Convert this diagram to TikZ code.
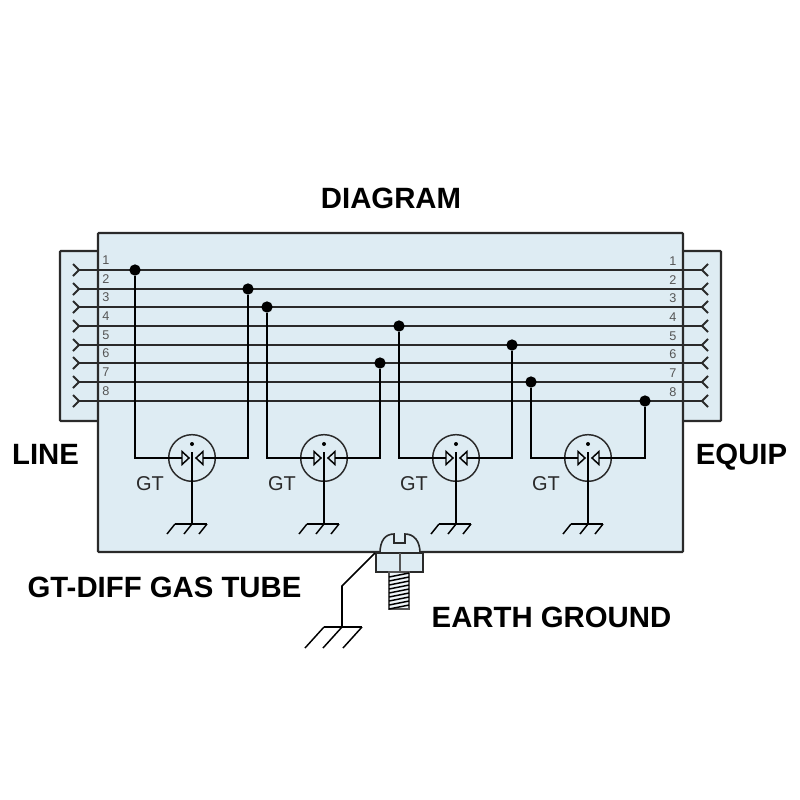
\documentclass[tikz,border=0pt]{standalone}
\usepackage{fontspec}
\setmainfont{Liberation Sans}
\definecolor{panelblue}{HTML}{DEECF3}
\definecolor{inkdark}{HTML}{2A2A2A}
\definecolor{pingray}{HTML}{555555}
\tikzset{
  housing/.style={draw=inkdark,line width=1.6pt,fill=panelblue,rounded corners=.6pt},
  wire/.style={draw=inkdark,line width=1.4pt},
  thinwire/.style={draw=black,line width=1.1pt},
  joint/.style={circle,fill=black,inner sep=0pt,minimum size=8.5pt},
  tube/.style={draw=inkdark,circle,line width=1.1pt,inner sep=0pt,minimum size=35pt},
  pinno/.style={text=pingray,font=\fontsize{9.5}{11}\selectfont,inner sep=0pt},
  gtlabel/.style={text=inkdark,font=\fontsize{15}{17}\selectfont,inner sep=0pt},
  title/.style={text=black,font=\bfseries\fontsize{22}{25}\selectfont,inner sep=0pt,anchor=base}
}
\begin{document}
\begin{tikzpicture}[x=.75pt,y=-.75pt]
\useasboundingbox (0,0) rectangle (800,800);
% housing
\draw[housing] (98,251) -- (60,251) -- (60,421) -- (98,421);
\draw[housing] (683,251) -- (721,251) -- (721,421) -- (683,421);
\draw[housing] (98,233) rectangle (683,552);
% line wires
\foreach \n/\y in {1/270,2/289,3/307,4/326,5/345,6/363,7/382,8/401}{
  \coordinate (L\n) at (79,\y);
  \coordinate (R\n) at (702,\y);
  \draw[wire] (L\n) -- (R\n);
  \draw[wire] (73,\y-6) -- (L\n) -- (73,\y+6);
  \draw[wire] (708,\y-6) -- (R\n) -- (708,\y+6);
  \node[pinno] (numL\n) at (106,\y-10) {\n};
  \node[pinno] (numR\n) at (673,\y-9) {\n};
}
% joints
\node[joint] (d1) at (135,270) {};
\node[joint] (d2) at (248,289) {};
\node[joint] (d3) at (267,307) {};
\node[joint] (d4) at (380,363) {};
\node[joint] (d5) at (399,326) {};
\node[joint] (d6) at (512,345) {};
\node[joint] (d7) at (531,382) {};
\node[joint] (d8) at (645,401) {};
% gas tubes
\foreach \t/\c/\a/\b in {1/192/d1/d2,2/324/d3/d4,3/456/d5/d6,4/588/d7/d8}{
  \node[tube] (t\t) at (\c,458) {};
  \coordinate (tl\t) at (\c-10,458);
  \coordinate (tr\t) at (\c+11,458);
  \coordinate (gnd\t) at (\c,524);
  \draw[thinwire] (\a) |- (tl\t);
  \draw[thinwire] (\b) |- (tr\t);
  \draw[thinwire] (tl\t) -- +(0,-6.5) -- +(7,0) -- +(0,6.5) -- cycle;
  \draw[thinwire] (tr\t) -- +(0,-6.5) -- +(-7,0) -- +(0,6.5) -- cycle;
  \fill (\c,444) circle (2);
  \draw[thinwire] (\c,452) -- (gnd\t);
  \draw[thinwire] (\c-17,524) -- (\c+15,524);
  \draw[thinwire] (\c-17,524) -- +(-8,10);
  \draw[thinwire] (gnd\t) -- +(-8,10);
  \draw[thinwire] (\c+15,524) -- +(-8,10);
  \node[gtlabel] (gt\t) at (\c-42,484) {GT};
}
% earth screw
\draw[wire,fill=panelblue,line width=1.2pt] (380,553) .. controls (380,541) and (385,534) .. (394,534) -- (394,543) -- (405,543) -- (405,534) .. controls (414,534) and (420,541) .. (420,553);
\draw[wire,fill=panelblue] (376,553) rectangle (423,572);
\draw[wire,draw=pingray] (400,553) -- (400,572);
\coordinate (lug) at (375,553);
\coordinate (bend) at (342,586);
\coordinate (gndE) at (342,627);
\draw[thinwire,line width=1.3pt] (lug) -- (bend) -- (gndE);
\draw[thinwire] (324,627) -- (362,627);
\draw[thinwire] (324,627) -- +(-19,21);
\draw[thinwire] (gndE) -- +(-19,21);
\draw[thinwire] (362,627) -- +(-19,21);
\draw[line width=.8pt,draw=pingray,fill=panelblue!50] (389,572) rectangle (409,609);
\foreach \y in {575,579,...,607}
  \draw[black,line width=1.1pt] (389,\y+2) -- (409,\y-2);
% labels
\node[title] (diagram) at (391,208.5) {DIAGRAM};
\node[title] (line) at (45.5,464.5) {LINE};
\node[title] (equip) at (741.5,464.5) {EQUIP};
\node[title] (gastube) at (164.5,597) {GT-DIFF GAS TUBE};
\node[title] (earth) at (551.5,627) {EARTH GROUND};
\end{tikzpicture}
\end{document}
